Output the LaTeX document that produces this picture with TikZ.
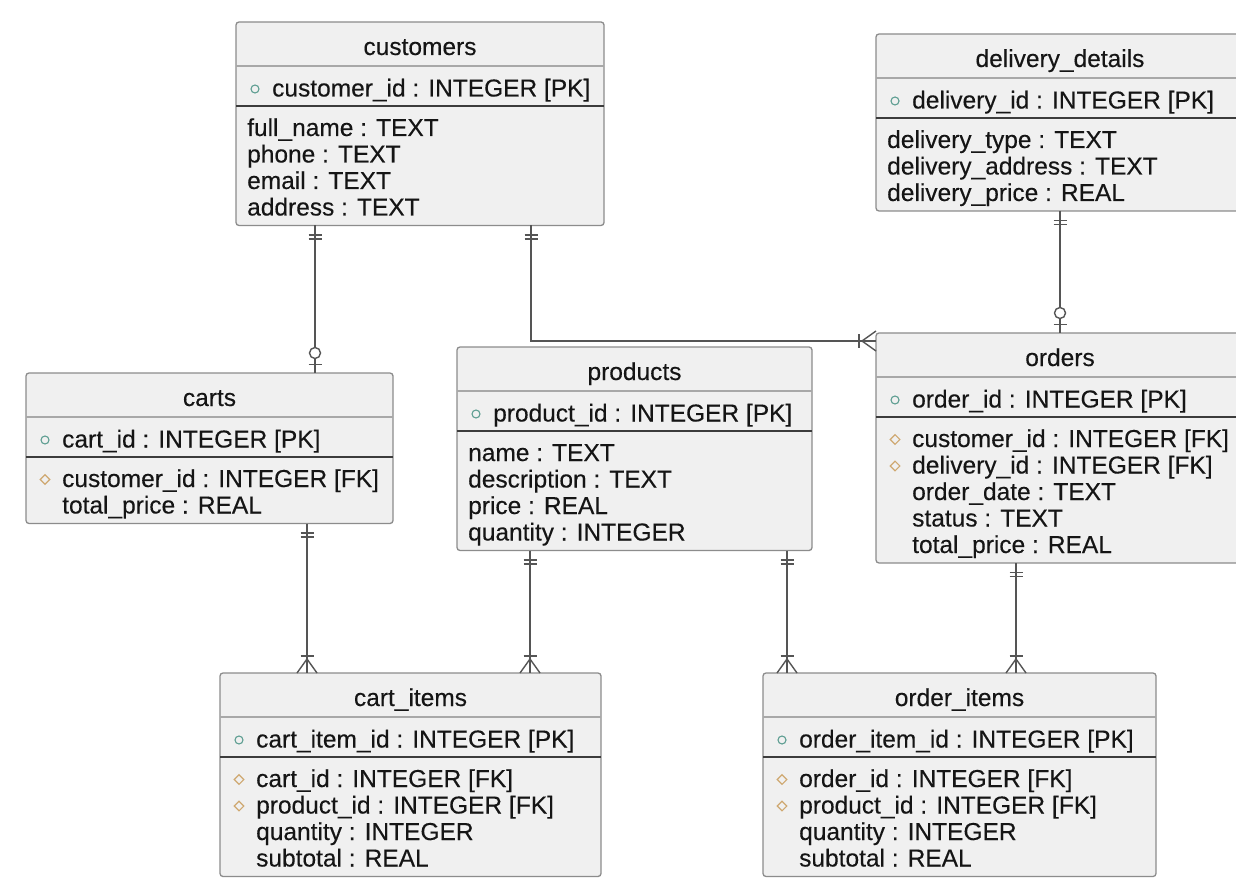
\documentclass[tikz,border=0pt]{standalone}
\usepackage{fontspec}
\setmainfont{Liberation Sans}[FakeBold=0.25]
\usetikzlibrary{shapes.geometric,decorations.markings}

\definecolor{boxfill}{HTML}{F0F0F0}
\definecolor{boxedge}{HTML}{8C8C8C}
\definecolor{titlerule}{HTML}{A8A8A8}
\definecolor{pkrule}{HTML}{3C3C3C}
\definecolor{inktext}{HTML}{151515}
\definecolor{relink}{HTML}{555555}
\definecolor{pkcolor}{HTML}{5E9E92}
\definecolor{fkcolor}{HTML}{CFA870}

\tikzset{
  tablebox/.style={anchor=north west, draw=boxedge, fill=boxfill, line width=1.3pt,
    rounded corners=3pt, inner sep=0pt, outer sep=0pt},
  titletext/.style={anchor=base, inner sep=0pt, text=inktext,
    font=\fontsize{24.5pt}{26pt}\selectfont},
  rowtext/.style={anchor=base west, inner sep=0pt, text=inktext,
    font=\fontsize{24.5pt}{26pt}\selectfont},
  titlesep/.style={draw=titlerule, line width=1.3pt},
  pksep/.style={draw=pkrule, line width=1.6pt},
  pkmark/.style={circle, draw=pkcolor, line width=1.1pt, minimum size=8pt, inner sep=0pt},
  fkmark/.style={diamond, draw=fkcolor, line width=1.1pt, minimum width=10pt,
    minimum height=10pt, inner sep=0pt},
  rel/.style={draw=relink, line width=1.4pt},
  erline/.style={draw=relink, line width=1.4pt},
  % exactly one, at the start of a relation line
  erOneStart/.style={postaction={decorate, decoration={markings,
    mark=at position 9.5pt with {\draw[erline] (0pt,-6.5pt) -- (0pt,6.5pt);},
    mark=at position 13.5pt with {\draw[erline] (0pt,-6.5pt) -- (0pt,6.5pt);}}}},
  % one or many, at the end of a relation line
  erManyEnd/.style={postaction={decorate, decoration={markings,
    mark=at position -17pt with {\draw[erline] (0pt,-6.5pt) -- (0pt,6.5pt);},
    mark=at position -14pt with {\draw[erline] (14pt,-10pt) -- (0pt,0pt) -- (14pt,10pt);}}}},
  % zero or one, at the end of a relation line
  erZeroOneEnd/.style={postaction={decorate, decoration={markings,
    mark=at position -20pt with {\draw[erline, fill=white] (0pt,0pt) circle (5.5pt);},
    mark=at position -8.5pt with {\draw[erline] (0pt,-6.5pt) -- (0pt,6.5pt);}}}},
}

% table frame: name, left, top, width, height, title
\newcommand\ertable[6]{%
  \node[tablebox, minimum width=#4pt, minimum height=#5pt] (#1) at (#2,#3) {};
  \node[titletext] (#1-title) at ([yshift=-33pt]#1.north) {#6};
  \draw[titlesep] ([yshift=-44pt]#1.north west) -- ([yshift=-44pt]#1.north east);
  \draw[pksep] ([yshift=-84pt]#1.north west) -- ([yshift=-84pt]#1.north east);
}
% primary key row: table, text
\newcommand\erpk[2]{%
  \node[pkmark] (#1-pkmark) at ([xshift=19pt,yshift=-67pt]#1.north west) {};
  \node[rowtext] (#1-pk) at ([xshift=36pt,yshift=-74.5pt]#1.north west) {#2};
}
% foreign key row: table, row index, text
\newcommand\erfk[3]{%
  \node[fkmark] (#1-r#2mark) at ([xshift=19pt,yshift={-(106.5pt+26.5pt*#2)}]#1.north west) {};
  \node[rowtext] (#1-r#2) at ([xshift=36pt,yshift={-(114pt+26.5pt*#2)}]#1.north west) {#3};
}
% plain attribute row: table, row index, indent, text
\newcommand\errow[4]{%
  \node[rowtext] (#1-r#2) at ([xshift=#3pt,yshift={-(114pt+26.5pt*#2)}]#1.north west) {#4};
}

\begin{document}
\begin{tikzpicture}[x=1pt, y=-1pt]
  \useasboundingbox (0,0) rectangle (1236,882);
  \clip (0,0) rectangle (1236,882);
  \fill[white] (0,0) rectangle (1236,882);

  % customers
  \ertable{customers}{236}{22}{368}{203.5}{customers}
  \erpk{customers}{customer\_id : INTEGER [PK]}
  \errow{customers}{0}{11}{full\_name : TEXT}
  \errow{customers}{1}{11}{phone : TEXT}
  \errow{customers}{2}{11}{email : TEXT}
  \errow{customers}{3}{11}{address : TEXT}

  % delivery_details
  \ertable{delivery}{876}{34}{368}{177}{delivery\_details}
  \erpk{delivery}{delivery\_id : INTEGER [PK]}
  \errow{delivery}{0}{11}{delivery\_type : TEXT}
  \errow{delivery}{1}{11}{delivery\_address : TEXT}
  \errow{delivery}{2}{11}{delivery\_price : REAL}

  % carts
  \ertable{carts}{26}{373}{367}{150.5}{carts}
  \erpk{carts}{cart\_id : INTEGER [PK]}
  \erfk{carts}{0}{customer\_id : INTEGER [FK]}
  \errow{carts}{1}{36}{total\_price : REAL}

  % products
  \ertable{products}{457}{347}{355}{203.5}{products}
  \erpk{products}{product\_id : INTEGER [PK]}
  \errow{products}{0}{11}{name : TEXT}
  \errow{products}{1}{11}{description : TEXT}
  \errow{products}{2}{11}{price : REAL}
  \errow{products}{3}{11}{quantity : INTEGER}

  % orders
  \ertable{orders}{876}{333}{368}{230}{orders}
  \erpk{orders}{order\_id : INTEGER [PK]}
  \erfk{orders}{0}{customer\_id : INTEGER [FK]}
  \erfk{orders}{1}{delivery\_id : INTEGER [FK]}
  \errow{orders}{2}{36}{order\_date : TEXT}
  \errow{orders}{3}{36}{status : TEXT}
  \errow{orders}{4}{36}{total\_price : REAL}

  % cart_items
  \ertable{cartitems}{220}{673}{381}{203.5}{cart\_items}
  \erpk{cartitems}{cart\_item\_id : INTEGER [PK]}
  \erfk{cartitems}{0}{cart\_id : INTEGER [FK]}
  \erfk{cartitems}{1}{product\_id : INTEGER [FK]}
  \errow{cartitems}{2}{36}{quantity : INTEGER}
  \errow{cartitems}{3}{36}{subtotal : REAL}

  % order_items
  \ertable{orderitems}{763}{673}{393}{203.5}{order\_items}
  \erpk{orderitems}{order\_item\_id : INTEGER [PK]}
  \erfk{orderitems}{0}{order\_id : INTEGER [FK]}
  \erfk{orderitems}{1}{product\_id : INTEGER [FK]}
  \errow{orderitems}{2}{36}{quantity : INTEGER}
  \errow{orderitems}{3}{36}{subtotal : REAL}

  % relations
  \coordinate (custcart) at ([xshift=79pt]customers.south west);
  \draw[rel, erOneStart, erZeroOneEnd] (custcart) -- (custcart |- carts.north);

  \coordinate (custorder) at ([xshift=295pt]customers.south west);
  \coordinate (orderside) at ([yshift=-8pt]orders.north west);
  \draw[rel, erOneStart, erManyEnd] (custorder) |- (orderside);

  \coordinate (delorder) at ([xshift=184pt]delivery.south west);
  \draw[rel, erOneStart, erZeroOneEnd] (delorder) -- (delorder |- orders.north);

  \coordinate (cartitem) at ([xshift=281pt]carts.south west);
  \draw[rel, erOneStart, erManyEnd] (cartitem) -- (cartitem |- cartitems.north);

  \coordinate (prodcart) at ([xshift=73pt]products.south west);
  \draw[rel, erOneStart, erManyEnd] (prodcart) -- (prodcart |- cartitems.north);

  \coordinate (prodorder) at ([xshift=330pt]products.south west);
  \draw[rel, erOneStart, erManyEnd] (prodorder) -- (prodorder |- orderitems.north);

  \coordinate (orderitem) at ([xshift=140pt]orders.south west);
  \draw[rel, erOneStart, erManyEnd] (orderitem) -- (orderitem |- orderitems.north);
\end{tikzpicture}
\end{document}
